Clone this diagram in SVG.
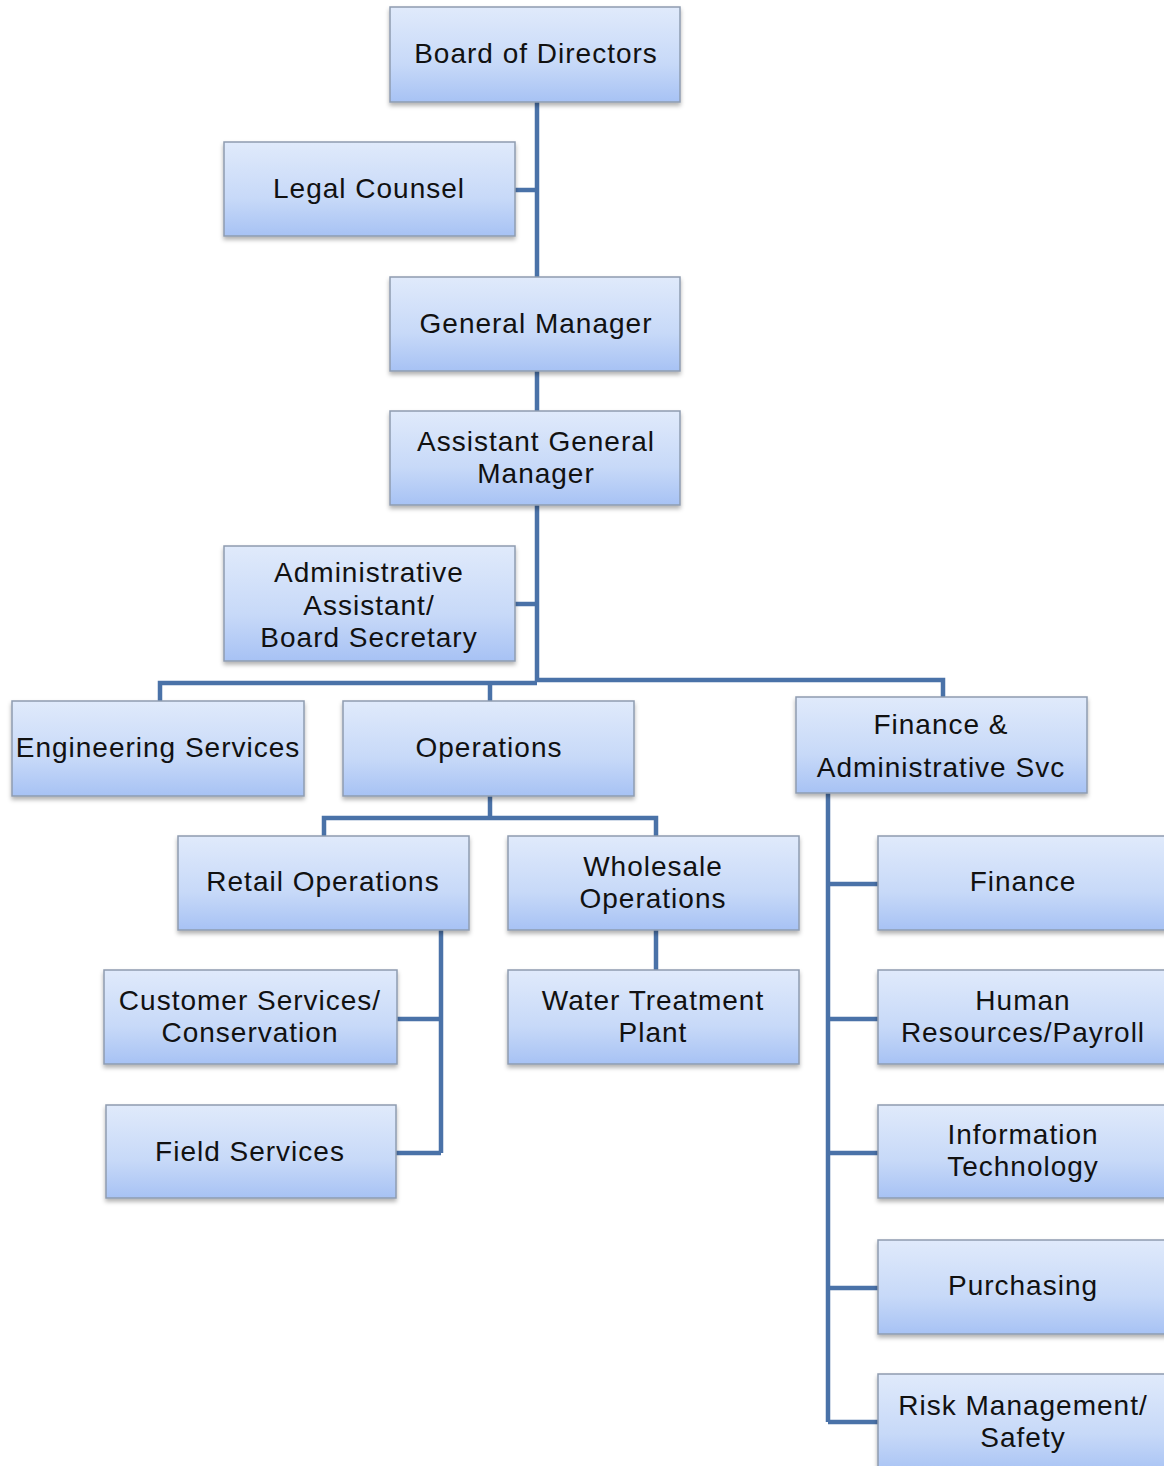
<svg xmlns="http://www.w3.org/2000/svg" width="1164" height="1466" viewBox="0 0 1164 1466">
<defs>
<linearGradient id="g" x1="0" y1="0" x2="0" y2="1">
<stop offset="0" stop-color="#e0eafb"/>
<stop offset="0.6" stop-color="#c7d9f8"/>
<stop offset="1" stop-color="#a7c2f4"/>
</linearGradient>
<filter id="sh" x="-5%" y="-5%" width="110%" height="120%">
<feDropShadow dx="0" dy="3" stdDeviation="2" flood-color="#000" flood-opacity="0.3"/>
</filter>
</defs>
<style>
.n rect{fill:url(#g);stroke:#8e9cb0;stroke-width:1.5;filter:url(#sh)}
.n text{font-family:"Liberation Sans",Arial,sans-serif;font-size:28px;letter-spacing:1px;fill:#111;text-anchor:middle}
#connectors path{fill:none;stroke:#4a72a8;stroke-width:4.5}
</style>
<rect width="1164" height="1466" fill="#fff"/>
<g id="connectors">
<path d="M537 102V682"/>
<path d="M515 190H537"/>
<path d="M515 604H537"/>
<path d="M160 701V683H537"/>
<path d="M490 701V683"/>
<path d="M537 680H943V697"/>
<path d="M490 796V818"/>
<path d="M324 836V818H656V836"/>
<path d="M441 930V1153"/>
<path d="M397 1019H441"/>
<path d="M396 1153H441"/>
<path d="M656 930V970"/>
<path d="M828 793V1422"/>
<path d="M828 884H878"/>
<path d="M828 1019H878"/>
<path d="M828 1153H878"/>
<path d="M828 1288H878"/>
<path d="M828 1422H878"/>
</g>
<g id="board" class="n"><rect x="390" y="7" width="290" height="95"/><text x="536" y="63">Board of Directors</text></g>
<g id="legal" class="n"><rect x="224" y="142" width="291" height="94"/><text x="369" y="198">Legal Counsel</text></g>
<g id="gm" class="n"><rect x="390" y="277" width="290" height="94"/><text x="536" y="333">General Manager</text></g>
<g id="agm" class="n"><rect x="390" y="411" width="290" height="94"/><text x="536" y="451">Assistant General</text><text x="536" y="483">Manager</text></g>
<g id="admin" class="n"><rect x="224" y="546" width="291" height="115"/><text x="369" y="582">Administrative</text><text x="369" y="615">Assistant/</text><text x="369" y="647">Board Secretary</text></g>
<g id="eng" class="n"><rect x="12" y="701" width="292" height="95"/><text x="158" y="757">Engineering Services</text></g>
<g id="ops" class="n"><rect x="343" y="701" width="291" height="95"/><text x="489" y="757">Operations</text></g>
<g id="finadm" class="n"><rect x="796" y="697" width="291" height="96"/><text x="941" y="734">Finance &amp;</text><text x="941" y="777">Administrative Svc</text></g>
<g id="retail" class="n"><rect x="178" y="836" width="291" height="94"/><text x="323" y="891">Retail Operations</text></g>
<g id="wholesale" class="n"><rect x="508" y="836" width="291" height="94"/><text x="653" y="876">Wholesale</text><text x="653" y="908">Operations</text></g>
<g id="cust" class="n"><rect x="104" y="970" width="293" height="94"/><text x="250" y="1010">Customer Services/</text><text x="250" y="1042">Conservation</text></g>
<g id="field" class="n"><rect x="106" y="1105" width="290" height="93"/><text x="250" y="1161">Field Services</text></g>
<g id="wtp" class="n"><rect x="508" y="970" width="291" height="94"/><text x="653" y="1010">Water Treatment</text><text x="653" y="1042">Plant</text></g>
<g id="finance" class="n"><rect x="878" y="836" width="292" height="94"/><text x="1023" y="891">Finance</text></g>
<g id="hr" class="n"><rect x="878" y="970" width="292" height="94"/><text x="1023" y="1010">Human</text><text x="1023" y="1042">Resources/Payroll</text></g>
<g id="it" class="n"><rect x="878" y="1105" width="292" height="93"/><text x="1023" y="1144">Information</text><text x="1023" y="1176">Technology</text></g>
<g id="purch" class="n"><rect x="878" y="1240" width="292" height="94"/><text x="1023" y="1295">Purchasing</text></g>
<g id="risk" class="n"><rect x="878" y="1374" width="292" height="100"/><text x="1023" y="1415">Risk Management/</text><text x="1023" y="1447">Safety</text></g>
</svg>
